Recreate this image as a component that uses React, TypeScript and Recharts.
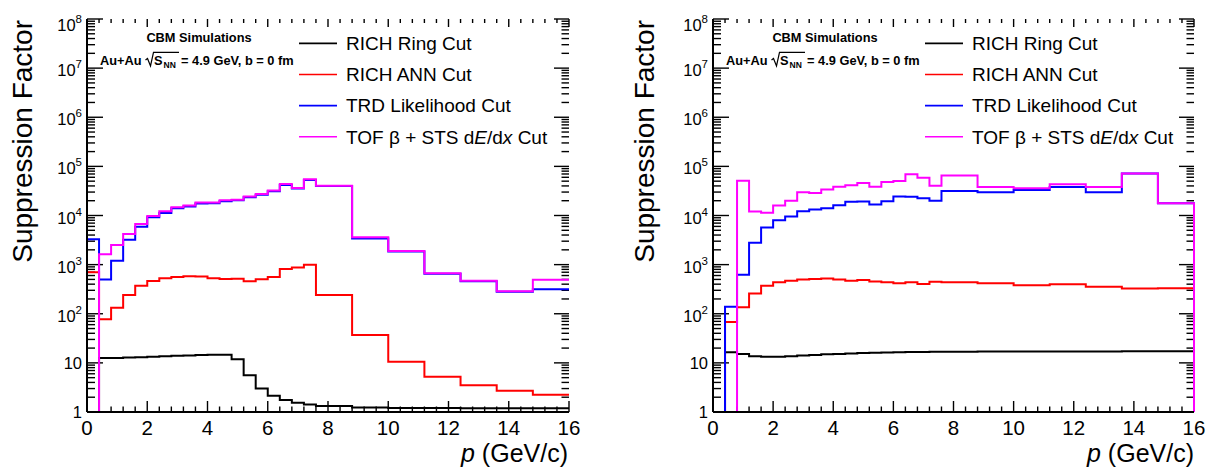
import React from 'react';
import { LineChart, Line, XAxis, YAxis, Legend, ReferenceLine } from 'recharts';

const FONT = "'Liberation Sans', Arial, Helvetica, sans-serif";

// histogram bin low edges (GeV/c); last bin ends at binUpperEnd
const binLowEdges = [0, 0.4, 0.8, 1.2, 1.6, 2.0, 2.4, 2.8, 3.2, 3.6, 4.0, 4.4, 4.8, 5.2, 5.6, 6.0, 6.4, 6.8, 7.2, 7.6, 8.8, 10.0, 11.2, 12.4, 13.6, 14.8];
const binUpperEnd = 16;

// left panel
const leftRichRing = [1, 12.5, 12.6, 12.8, 13.0, 13.3, 13.6, 13.9, 14.2, 14.4, 14.6, 14.7, 11.8, 5.6, 3.0, 2.15, 1.75, 1.55, 1.42, 1.33, 1.24, 1.21, 1.2, 1.19, 1.19, 1.19];
const leftRichAnn = [700, 77, 133, 240, 370, 465, 530, 560, 580, 575, 530, 510, 515, 460, 505, 560, 810, 870, 1000, 240, 37, 10.6, 5.2, 3.5, 2.7, 2.25];
const leftTrd = [3300, 500, 1200, 3200, 5900, 9200, 11300, 14100, 15200, 17500, 17800, 19500, 20500, 23500, 26500, 31000, 42000, 35500, 53000, 40000, 3400, 1850, 650, 460, 280, 315];
const leftTof = [1, 1620, 2500, 4200, 6700, 9800, 12200, 14800, 15900, 18300, 18300, 20400, 21000, 24400, 27500, 32300, 43600, 36500, 55000, 40500, 3600, 1900, 665, 470, 288, 490];

// right panel
const rightRichRing = [1, 16.5, 15.2, 13.6, 13.3, 13.4, 13.7, 14.1, 14.5, 14.9, 15.2, 15.5, 15.8, 16.0, 16.2, 16.4, 16.6, 16.7, 16.8, 16.9, 17.0, 17.0, 17.0, 17.1, 17.2, 17.3];
const rightRichAnn = [1, 68, 135, 257, 370, 437, 470, 500, 510, 520, 500, 470, 485, 455, 440, 420, 440, 405, 450, 440, 420, 380, 400, 355, 325, 330];
const rightTrd = [1, 139, 620, 2800, 5700, 8000, 9500, 12200, 13200, 14000, 16200, 19000, 19200, 16700, 19500, 24400, 24000, 22500, 20000, 31700, 29700, 33000, 38000, 29700, 72000, 17700];
const rightTof = [1, 1, 51000, 12000, 11400, 15900, 20000, 29600, 28800, 33700, 38700, 41500, 46000, 38700, 48000, 50300, 69000, 59000, 40500, 65000, 38000, 36000, 43500, 38000, 72000, 17700];

const seriesKeys = ['ring', 'ann', 'trd', 'tof'];
const seriesColors = ['#000000', '#ff0000', '#0000ff', '#ff00ff'];
// *...* marks italic parts
const legendLabels = ['RICH Ring Cut', 'RICH ANN Cut', 'TRD Likelihood Cut', 'TOF β + STS d*E*/d*x* Cut'];

const xMajorTicks = [0, 2, 4, 6, 8, 10, 12, 14, 16];
const yDecadeTicks = [1, 10, 100, 1e3, 1e4, 1e5, 1e6, 1e7, 1e8];
const yTitle = 'Suppression Factor';
const annotationTitle = 'CBM Simulations';
const annotationSystem = 'Au+Au';
const annotationRest = ' = 4.9 GeV, b = 0 fm';

const X_MIN = 0;
const X_MAX = 16;
const Y_MIN = 1;
const Y_MAX = 1e8;

const xMinorTicks: number[] = [];
xMajorTicks.forEach((m, i) => {
  if (i < xMajorTicks.length - 1) {
    for (let k = 1; k < 5; k++) xMinorTicks.push(Math.round((m + 0.4 * k) * 10) / 10);
  }
});
const yMinorTicks: number[] = [];
yDecadeTicks.forEach((d, i) => {
  if (i < yDecadeTicks.length - 1) for (let k = 2; k < 10; k++) yMinorTicks.push(d * k);
});

function buildRows(series: number[][], dropAtEnd: boolean) {
  const rows: any[] = [];
  const start: any = { p: 0 };
  seriesKeys.forEach((k) => (start[k] = 1));
  rows.push(start);
  binLowEdges.forEach((edge, i) => {
    const r: any = { p: edge };
    seriesKeys.forEach((k, s) => (r[k] = series[s][i]));
    rows.push(r);
  });
  const last: any = { p: binUpperEnd };
  seriesKeys.forEach((k, s) => (last[k] = series[s][series[s].length - 1]));
  rows.push(last);
  if (dropAtEnd) {
    const end: any = { p: binUpperEnd };
    seriesKeys.forEach((k) => (end[k] = 1));
    rows.push(end);
  }
  return rows;
}

const leftRows = buildRows([leftRichRing, leftRichAnn, leftTrd, leftTof], false);
const rightRows = buildRows([rightRichRing, rightRichAnn, rightTrd, rightTof], true);

const FRAME = { stroke: '#000000', strokeWidth: 2 };

const BottomLabel = (props: any) => {
  const { x, y, payload } = props;
  return (
    <text x={x} y={y + 23} textAnchor="middle" fontSize={20.5} fontFamily={FONT} fill="#000">
      {payload.value}
    </text>
  );
};

const LeftLabel = (props: any) => {
  const { x, y, payload } = props;
  const e = Math.round(Math.log10(payload.value));
  if (e === 0 || e === 1) {
    return (
      <text x={x - 5} y={y + 6} textAnchor="end" fontSize={16.5} fontFamily={FONT} fill="#000">
        {e === 0 ? '1' : '10'}
      </text>
    );
  }
  return (
    <text x={x - 5} y={y + (e === 8 ? 12 : 8)} textAnchor="end" fontSize={16.5} fontFamily={FONT} fill="#000">
      10<tspan dy={-8} fontSize={11.5}>{e}</tspan>
    </text>
  );
};

const renderLabelParts = (lab: string) =>
  lab.split('*').map((part, i) => (
    <tspan key={i} fontStyle={i % 2 === 1 ? 'italic' : 'normal'}>
      {part}
    </tspan>
  ));

const LegendBox = () => (
  <svg width={300} height={135} style={{ display: 'block', overflow: 'visible' }}>
    {legendLabels.map((lab, i) => {
      const cy = 18.4 + i * 31.1;
      return (
        <g key={i}>
          <line x1={9} x2={47} y1={cy} y2={cy} stroke={seriesColors[i]} strokeWidth={1.6} />
          <text x={56} y={cy + 6.8} fontSize={19} fontFamily={FONT} fill="#000">
            {renderLabelParts(lab)}
          </text>
        </g>
      );
    })}
  </svg>
);

const Annotation = () => (
  <svg width={605} height={80} style={{ position: 'absolute', left: 0, top: 0, pointerEvents: 'none' }}>
    <text x={199} y={41.5} textAnchor="middle" fontSize={12.8} fontWeight="bold" fontFamily={FONT} fill="#000">
      {annotationTitle}
    </text>
    <text y={65} fontSize={12.8} fontWeight="bold" fontFamily={FONT} fill="#000">
      <tspan x={100}>{annotationSystem}</tspan>
      <tspan x={154}>S</tspan>
      <tspan x={163.5} dy={3} fontSize={8.5}>NN</tspan>
      <tspan x={177.5} dy={-3}>{annotationRest}</tspan>
    </text>
    <path d="M145.5 60 L147.5 58.5 L150.5 66 L153.5 52.3 L179 52.3" fill="none" stroke="#000" strokeWidth={1.2} />
  </svg>
);

// inward tick marks, lengths given in pixels and converted to data space
function tickMarks(plotW: number, plotH: number) {
  const pxPerX = plotW / (X_MAX - X_MIN);
  const pxPerDecade = plotH / Math.log10(Y_MAX / Y_MIN);
  const dx = (px: number) => px / pxPerX;
  const upY = (v: number, px: number) => v * Math.pow(10, px / pxPerDecade);
  const downY = (v: number, px: number) => v / Math.pow(10, px / pxPerDecade);
  const segs: { a: { x: number; y: number }; b: { x: number; y: number } }[] = [];
  yDecadeTicks.forEach((v) => {
    segs.push({ a: { x: X_MIN, y: v }, b: { x: X_MIN + dx(16), y: v } });
    segs.push({ a: { x: X_MAX - dx(15), y: v }, b: { x: X_MAX, y: v } });
  });
  yMinorTicks.forEach((v) => {
    segs.push({ a: { x: X_MIN, y: v }, b: { x: X_MIN + dx(8), y: v } });
    segs.push({ a: { x: X_MAX - dx(7.5), y: v }, b: { x: X_MAX, y: v } });
  });
  xMajorTicks.forEach((p) => {
    segs.push({ a: { x: p, y: Y_MIN }, b: { x: p, y: upY(Y_MIN, 11) } });
    segs.push({ a: { x: p, y: downY(Y_MAX, 8) }, b: { x: p, y: Y_MAX } });
  });
  xMinorTicks.forEach((p) => {
    segs.push({ a: { x: p, y: Y_MIN }, b: { x: p, y: upY(Y_MIN, 5.5) } });
    segs.push({ a: { x: p, y: downY(Y_MAX, 4) }, b: { x: p, y: Y_MAX } });
  });
  return segs;
}

type PanelProps = { rows: any[]; left: number; titleX: number; rightMargin: number };

const Panel = ({ rows, left, titleX, rightMargin }: PanelProps) => {
  const plotW = 605 - 87 - rightMargin;
  const plotH = 468 - 19 - 26 - 30;
  const segs = tickMarks(plotW, plotH);
  return (
    <div style={{ position: 'absolute', left, top: 0, width: 605, height: 468 }}>
      <LineChart width={605} height={468} data={rows} margin={{ top: 19, right: rightMargin, bottom: 26, left: 0 }}>
        <XAxis
          dataKey="p"
          type="number"
          domain={[X_MIN, X_MAX]}
          ticks={xMajorTicks}
          interval={0}
          tickSize={0}
          tickMargin={0}
          tickLine={false}
          tick={<BottomLabel />}
          height={30}
          axisLine={FRAME}
          label={{
            content: () => (
              <text x={568} y={462} textAnchor="end" fontSize={25} fontFamily={FONT} fill="#000">
                <tspan fontStyle="italic">p</tspan> (GeV/c)
              </text>
            ),
          }}
        />
        <XAxis
          xAxisId="top"
          orientation="top"
          type="number"
          domain={[X_MIN, X_MAX]}
          ticks={xMajorTicks}
          tick={false}
          tickLine={false}
          height={0}
          axisLine={FRAME}
        />
        <YAxis
          type="number"
          scale="log"
          domain={[Y_MIN, Y_MAX]}
          ticks={yDecadeTicks}
          interval={0}
          tickSize={0}
          tickMargin={0}
          tickLine={false}
          tick={<LeftLabel />}
          width={87}
          axisLine={FRAME}
          label={{
            content: () => (
              <text
                transform={`translate(${titleX},20) rotate(-90)`}
                textAnchor="end"
                fontSize={28}
                fontFamily={FONT}
                fill="#000"
              >
                {yTitle}
              </text>
            ),
          }}
        />
        <YAxis
          yAxisId="right"
          orientation="right"
          type="number"
          scale="log"
          domain={[Y_MIN, Y_MAX]}
          ticks={yDecadeTicks}
          tick={false}
          tickLine={false}
          width={0}
          axisLine={FRAME}
        />
        {segs.map((s, i) => (
          <ReferenceLine
            key={`t${i}`}
            segment={[s.a, s.b]}
            stroke="#000000"
            strokeWidth={1.4}
            ifOverflow="visible"
          />
        ))}
        <Legend
          layout="vertical"
          align="center"
          verticalAlign="middle"
          wrapperStyle={{ position: 'absolute', left: 290, top: 25, width: 300, height: 135 }}
          content={() => <LegendBox />}
        />
        {seriesKeys.map((k, i) => (
          <Line
            key={k}
            type="stepAfter"
            dataKey={k}
            name={legendLabels[i]}
            stroke={seriesColors[i]}
            strokeWidth={2}
            dot={false}
            activeDot={false}
            isAnimationActive={false}
          />
        ))}
      </LineChart>
      <Annotation />
    </div>
  );
};

export default function App() {
  return (
    <div style={{ position: 'absolute', left: 0, top: 0, width: 1211, height: 468, background: '#fff', fontFamily: FONT }}>
      <Panel rows={leftRows} left={0} titleX={32} rightMargin={36} />
      <Panel rows={rightRows} left={626} titleX={28} rightMargin={37} />
    </div>
  );
}
